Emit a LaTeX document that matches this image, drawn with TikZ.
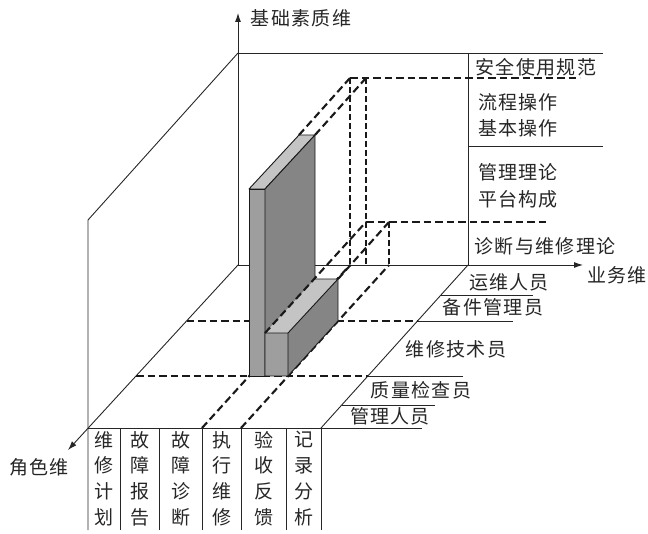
\documentclass[tikz,border=0pt]{standalone}
\usepackage{fontspec}
\newfontfamily\cjk[LetterSpace=7]{Noto Sans CJK SC}
\newfontfamily\cjkcol{Noto Sans CJK SC}
\usetikzlibrary{arrows.meta}
\begin{document}
\begin{tikzpicture}[x=1pt,y=-1pt,
  ln/.style={line width=0.9pt, draw=black!85},
  axis/.style={ln, -{Latex[length=9pt,width=6pt]}},
  dsh/.style={line width=2.1pt, dash pattern=on 7.5pt off 4pt, draw=black!90},
  wdsh/.style={line width=1.4pt, dash pattern=on 6pt off 3pt, draw=black!90},
  lbl/.style={font=\cjk\fontsize{19}{21}\selectfont, inner sep=0pt, text=black!85},
  col/.style={font=\cjkcol\fontsize{19}{25.7}\selectfont, inner sep=0pt, align=center, text=black!85},
  facefront/.style={fill=black!38},
  faceside/.style={fill=black!48},
  facetop/.style={fill=black!23},
  edge/.style={line width=0.9pt, draw=black!90, line join=round}]
\path[use as bounding box] (0,0) rectangle (648,534);

% ---------- key coordinates ----------
\coordinate (O) at (238,265);
\coordinate (Ytip) at (238,13);
\coordinate (Xtip) at (583,265);
\coordinate (Ztip) at (68,450);
\coordinate (BT) at (238,53);
\coordinate (WRt) at (468,53);
\coordinate (WRb) at (468,265);
\coordinate (TopEnd) at (603,53);
\coordinate (M1) at (468,146);
\coordinate (M1e) at (603,146);
\coordinate (LT) at (88,220);
\coordinate (LB) at (88,530);
\coordinate (FR) at (321,428);
\coordinate (FRe) at (422,428);
\coordinate (FL) at (88,428);
% row lines
\coordinate (R1a) at (440,295); \coordinate (R1b) at (533,295);
\coordinate (R2l) at (186.5,321); \coordinate (R2a) at (418,321); \coordinate (R2b) at (513,321);
\coordinate (R3l) at (136,376); \coordinate (R3a) at (368,376); \coordinate (R3b) at (463,376);
\coordinate (R4a) at (342,405); \coordinate (R4b) at (435,405);

% ---------- solid frame ----------
\draw[axis] (O) -- (Ytip);
\draw[axis] (O) -- (Xtip);
\draw[axis] (O) -- (Ztip);
\draw[ln] (BT) -- (TopEnd);
\draw[ln] (WRt) -- (WRb);
\draw[ln] (M1) -- (M1e);
\draw[ln] (BT) -- (LT) -- (LB);
\draw[ln] (FL) -- (FRe);
\draw[ln] (WRb) -- (FR);
\draw[ln] (R1a) -- (R1b);
\draw[ln] (R2a) -- (R2b);
\draw[ln] (R3a) -- (R3b);
\draw[ln] (R4a) -- (R4b);
% table column lines
\foreach \x/\n in {120/c1,159/c2,202/c3,241/c4,286/c5,321/c6}{
  \coordinate (\n t) at (\x,428);
  \coordinate (\n b) at (\x,530);
  \draw[ln] (\n t) -- (\n b);
}

% ---------- dashed guides ----------
\coordinate (Fa) at (202,428); \coordinate (Fab) at (350,265);
\coordinate (Fb) at (241,428); \coordinate (Fbb) at (389,265);
\draw[dsh] (Fa) -- (Fab);
\draw[dsh] (Fb) -- (Fbb);
\draw[dsh] (R2l) -- (R2a);
\draw[dsh] (R3l) -- (R3a);
% back wall projections
\coordinate (Wt1) at (350,78); \coordinate (Wt2) at (366,78); \coordinate (WtE) at (580,78);
\coordinate (Wl1) at (366,222); \coordinate (Wl2) at (389,222); \coordinate (WlE) at (548,222);
\draw[wdsh] (Wt1) -- (Fab);
\draw[wdsh] (Wt2) -- (366,265);
\draw[wdsh] (Wl2) -- (Fbb);
\draw[dsh] (Wt1) -- (WtE);
\draw[dsh] (Wl1) -- (WlE);

% ---------- tall block ----------
\coordinate (A1) at (249,376); \coordinate (A2) at (265,376);
\coordinate (A3) at (265,189); \coordinate (A4) at (249,189);
\coordinate (A5) at (299,135); \coordinate (A6) at (315,135);
\coordinate (A7) at (315,321);
\draw[edge, facefront] (A1) -- (A2) -- (A3) -- (A4) -- cycle;
\draw[edge, facetop] (A4) -- (A3) -- (A6) -- (A5) -- cycle;
\draw[edge, faceside] (A2) -- (A7) -- (A6) -- (A3) -- cycle;

% ---------- low block ----------
\coordinate (B1) at (265,376); \coordinate (B2) at (288,376);
\coordinate (B3) at (288,333); \coordinate (B4) at (265,333);
\coordinate (B5) at (315,279); \coordinate (B6) at (338,279);
\coordinate (B7) at (338,321);
\fill[facefront] (B1) -- (B2) -- (B3) -- (B4) -- cycle;
\fill[facetop] (B4) -- (B3) -- (B6) -- (B5) -- cycle;
\fill[faceside] (B2) -- (B7) -- (B6) -- (B3) -- cycle;
\draw[edge] (B5) -- (B6) -- (B3) -- (B4) -- (B1) -- (B2) -- (B3);
\draw[edge] (B2) -- (B7) -- (B6);

% ---------- extrusions to the back wall ----------
\draw[dsh] (A5) -- (Wt1);
\draw[dsh] (A6) -- (Wt2);
\draw[dsh] (B4) -- (Wl1);
\draw[dsh] (B6) -- (Wl2);

% ---------- labels ----------
\node[lbl] (yl) at (301,18) {基础素质维};
\node[lbl] (xl) at (617,275) {业务维};
\node[lbl] (zl) at (39,467) {角色维};
\node[lbl] (s1) at (536,67) {安全使用规范};
\node[lbl] (s2) at (518,102) {流程操作};
\node[lbl] (s3) at (518,128) {基本操作};
\node[lbl] (s4) at (518,172) {管理理论};
\node[lbl] (s5) at (518,199) {平台构成};
\node[lbl] (s6) at (545,246) {诊断与维修理论};
\node[lbl] (r1) at (509,282) {运维人员};
\node[lbl] (r2) at (493,307) {备件管理员};
\node[lbl] (r3) at (456,349) {维修技术员};
\node[lbl] (r4) at (421,390) {质量检查员};
\node[lbl] (r5) at (390,416) {管理人员};
\node[col] (k1) at (104,478.5) {维\\修\\计\\划};
\node[col] (k2) at (139.5,478.5) {故\\障\\报\\告};
\node[col] (k3) at (180.5,478.5) {故\\障\\诊\\断};
\node[col] (k4) at (221.5,478.5) {执\\行\\维\\修};
\node[col] (k5) at (263.5,478.5) {验\\收\\反\\馈};
\node[col] (k6) at (303.5,478.5) {记\\录\\分\\析};
\end{tikzpicture}
\end{document}
